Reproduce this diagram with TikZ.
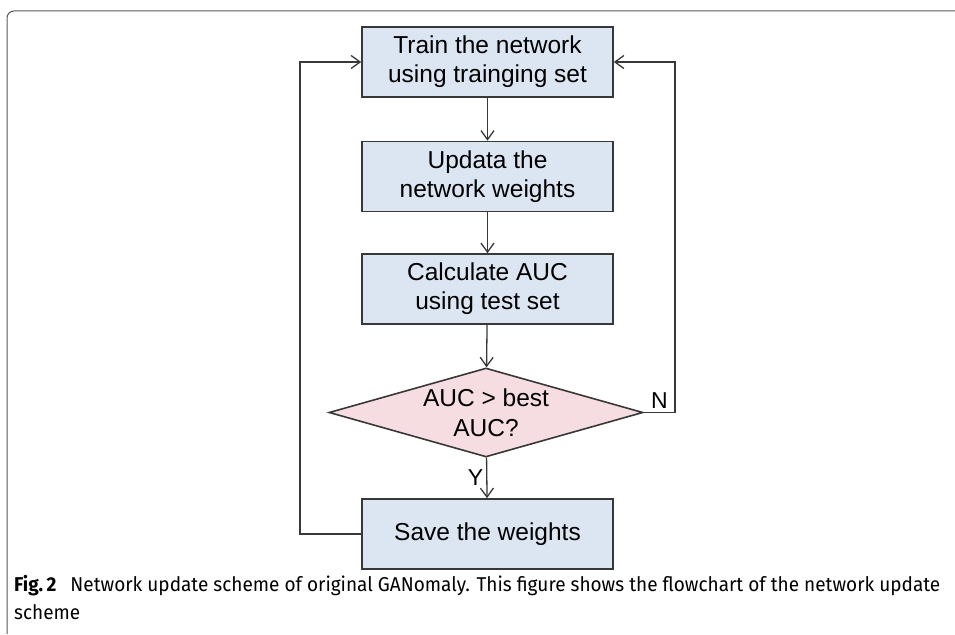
\documentclass[tikz,border=0pt]{standalone}
\usepackage{fontspec}
\setmainfont{Liberation Sans}
\newfontfamily\capfont[FakeStretch=0.95]{Fira Sans}
\usetikzlibrary{shapes.geometric,arrows.meta}
\definecolor{boxblue}{HTML}{DCE6F2}
\definecolor{boxpink}{HTML}{F6DDE2}
\definecolor{edge}{HTML}{383838}

\begin{document}
\begin{tikzpicture}[x=1pt, y=-1pt,
    box/.style={draw=edge, line width=1.6pt, fill=boxblue, minimum width=251pt,
      minimum height=70pt, inner sep=0pt, align=center,
      font=\fontsize{24.5}{29}\selectfont},
    test/.style={diamond, draw=edge, line width=1.6pt, fill=boxpink, aspect=3.5,
      minimum width=314pt, minimum height=89pt, inner sep=0pt, align=center,
      font=\fontsize{24.5}{30}\selectfont},
    lbl/.style={text=black, font=\fontsize{23}{26}\selectfont, inner sep=3pt},
    >={Straight Barb[length=9pt,width=13pt]}]

    \useasboundingbox (0,0) rectangle (955,634);
    \draw [black!65, line width=1pt, rounded corners=7pt] (955,11) -- (7,11) -- (7,634);

    \node[box] (a) at (487.5, 62) {Train the network\\using trainging set};
    \node[box] (b) at (487.5, 176.5) {Updata the\\network weights};
    \node[box] (c) at (487.5, 289) {Calculate AUC\\using test set};
    \node[test] (d) at (486, 412.5) {AUC > best\\AUC?};
    \node[box] (e) at (487.5, 534) {Save the weights};
    \coordinate (r) at (675, 412.5);
    \coordinate (l) at (300, 62);

    \draw [->, edge, line width=1.3pt] (a) to (b);
    \draw [->, edge, line width=1.3pt] (b) to (c);
    \draw [->, edge, line width=1.3pt] (c) to (d);
    \draw [->, edge, line width=1.3pt] (d) to node[lbl, left] {Y} (e);
    \draw [->, edge, line width=1.3pt] (d.east) to node[lbl, above] {N} (r) |- (a.east);
    \draw [->, edge, line width=1.3pt] (e.west) -| (l) to (a.west);

    \node[anchor=north west, align=left, inner sep=0pt,
      font=\capfont\fontsize{20}{28}\selectfont] (f) at (14, 575)
      {\textbf{Fig.\,2}\hspace{0.7em}Network update scheme of original GANomaly. This figure shows the flowchart of the network update\\scheme};

  \end{tikzpicture}
\end{document}
